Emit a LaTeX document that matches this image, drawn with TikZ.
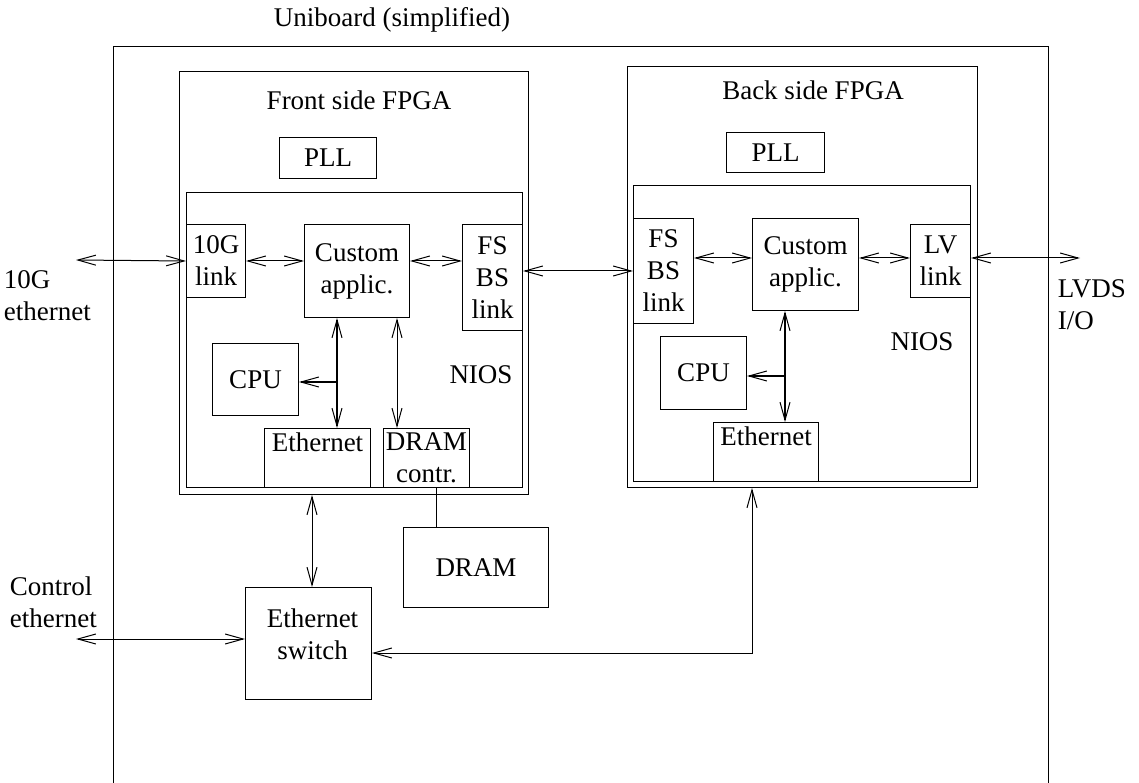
\documentclass[tikz,border=0pt]{standalone}
\usepackage{fontspec}
\setmainfont{Liberation Serif}
\usetikzlibrary{arrows.meta,positioning}
\tikzset{
    BX/.style ={rectangle, draw, inner sep=0pt, anchor=north west, align=center},
    TX/.style ={align=center},
    TL/.style ={align=left, anchor=west},
    BUS/.style ={line width=2pt}}

\begin{document}
\begin{tikzpicture}[x=1pt,y=-1pt,line width=1pt,
        font=\fontsize{27}{32}\selectfont,
        >={Straight Barb[length=18pt,width=10pt,line width=1pt]}]
    \useasboundingbox (0,0) rectangle (1139,783);
    % board outline, open at the bottom
    \draw (113,783) -- (113,47) -- (1048,47) -- (1048,783);
    \node[TX] (title) at (392,20) {Uniboard (simplified)};

    % front side FPGA
    \node[BX,minimum width=349pt,minimum height=423pt] (ffpga) at (179,71) {};
    \node[BX,minimum width=336pt,minimum height=295pt] (fnios) at (186,192) {};
    \node[TX] (ffpgaT) at (359,100) {Front side FPGA};
    \node[BX,minimum width=97pt,minimum height=41pt] (fpll) at (279,137) {PLL};
    \node[BX,minimum width=59pt,minimum height=73pt] (f10g) at (186,224) {10G\\link};
    \node[BX,minimum width=105pt,minimum height=93pt] (fcust) at (304,224) {Custom\\applic.};
    \node[BX,minimum width=60pt,minimum height=106pt] (ffsbs) at (462,224) {FS\\BS\\link};
    \node[BX,minimum width=86pt,minimum height=72pt] (fcpu) at (212,343) {CPU};
    \node[BX,minimum width=106pt,minimum height=59pt] (feth) at (264,428) {};
    \node[TX,below=1pt of feth.north] (fethT) {Ethernet};
    \node[BX,minimum width=86pt,minimum height=59pt] (fdram) at (383,428) {DRAM\\contr.};
    \node[TX] (fniosT) at (481,375) {NIOS};

    % back side FPGA
    \node[BX,minimum width=350pt,minimum height=421pt] (bfpga) at (627,66) {};
    \node[BX,minimum width=337pt,minimum height=296pt] (bnios) at (633,185) {};
    \node[TX] (bfpgaT) at (813,90) {Back side FPGA};
    \node[BX,minimum width=98pt,minimum height=40pt] (bpll) at (726,132) {PLL};
    \node[BX,minimum width=60pt,minimum height=105pt] (bfsbs) at (633,218) {FS\\BS\\link};
    \node[BX,minimum width=106pt,minimum height=92pt] (bcust) at (752,218) {Custom\\applic.};
    \node[BX,minimum width=60pt,minimum height=73pt] (blv) at (910,224) {LV\\link};
    \node[BX,minimum width=86pt,minimum height=73pt] (bcpu) at (660,336) {CPU};
    \node[BX,minimum width=105pt,minimum height=59pt] (beth) at (713,422) {};
    \node[TX,below=1pt of beth.north] (bethT) {Ethernet};
    \node[TX] (bniosT) at (922,342) {NIOS};

    % board parts outside the FPGAs
    \node[BX,minimum width=145pt,minimum height=80pt] (dram) at (403,527) {DRAM};
    \node[BX,minimum width=126pt,minimum height=112pt] (sw) at (245,587) {};
    \node[TX,xshift=4pt,yshift=9pt] (swT) at (sw.center) {Ethernet\\switch};

    % outside world
    \node[TL] (l10g) at (0,296) {10G\\ethernet};
    \node[TL] (lctl) at (6,602) {Control\\ethernet};
    \node[TL] (llvds) at (1054,305) {LVDS\\I/O};
    \coordinate (l10gend) at (76,260);
    \coordinate (ctlend) at (76,639);
    \coordinate (blvin) at (910,258);
    \coordinate (lvdsend) at (1080,258);

    % links in the front FPGA
    \draw[<->] (l10gend) -- (f10g.west);
    \draw[<->] (f10g.east) -- (f10g.east -| fcust.west);
    \draw[<->] (fcust.east |- f10g.east) -- (f10g.east -| ffsbs.west);
    \coordinate (fbus) at (337,382);
    \draw[BUS,<->] (fcust.south -| fbus) -- (feth.north -| fbus);
    \draw[BUS,->] (fbus) -- (fbus -| fcpu.east);
    \coordinate (fdbus) at (397,0);
    \draw[<->] (fcust.south -| fdbus) -- (fdram.north -| fdbus);

    % links in the back FPGA
    \draw[<->] (ffsbs.east |- bfsbs.west) -- (bfsbs.west);
    \draw[<->] (bfsbs.east |- blvin) -- (bcust.west |- blvin);
    \draw[<->] (bcust.east |- blvin) -- (blvin);
    \draw[<->] (blv.east |- lvdsend) -- (lvdsend);
    \coordinate (bbus) at (785,376);
    \draw[BUS,<->] (bcust.south -| bbus) -- (beth.north -| bbus);
    \draw[BUS,->] (bbus) -- (bbus -| bcpu.east);

    % memory and control network
    \coordinate (fdlink) at (436,0);
    \draw (fdram.south -| fdlink) -- (dram.north -| fdlink);
    \coordinate (fsw) at (312,0);
    \draw[<->] (ffpga.south -| fsw) -- (sw.north -| fsw);
    \draw[<->] (ctlend) -- (ctlend -| sw.west);
    \coordinate (bsw) at (752,653);
    \draw[<->] (bfpga.south -| bsw) |- (sw.east |- bsw);
\end{tikzpicture}
\end{document}
